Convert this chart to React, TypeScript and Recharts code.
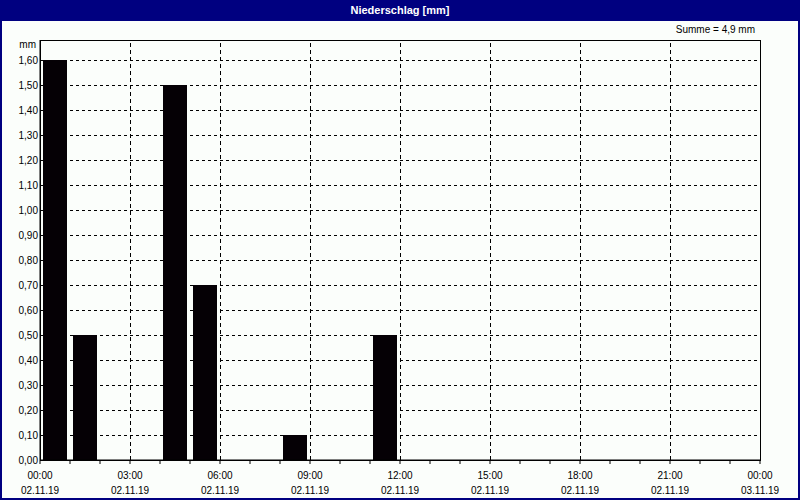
import React from 'react';
import { BarChart, Bar, XAxis, YAxis, CartesianGrid, ReferenceLine, ReferenceArea } from 'recharts';

const hours = [0, 1, 2, 3, 4, 5, 6, 7, 8, 9, 10, 11, 12, 13, 14, 15, 16, 17, 18, 19, 20, 21, 22, 23];
const precipitation = [1.6, 0.5, 0, 0, 1.5, 0.7, 0, 0, 0.1, 0, 0, 0.5, 0, 0, 0, 0, 0, 0, 0, 0, 0, 0, 0, 0];
const hourTicks = [0, 1, 2, 3, 4, 5, 6, 7, 8, 9, 10, 11, 12, 13, 14, 15, 16, 17, 18, 19, 20, 21, 22, 23, 24];
const majorTicks = [0, 3, 6, 9, 12, 15, 18, 21, 24];
const timeLabels = ['00:00', '03:00', '06:00', '09:00', '12:00', '15:00', '18:00', '21:00', '00:00'];
const dateLabels = ['02.11.19', '02.11.19', '02.11.19', '02.11.19', '02.11.19', '02.11.19', '02.11.19', '02.11.19', '03.11.19'];
const yTicks = [0, 0.1, 0.2, 0.3, 0.4, 0.5, 0.6, 0.7, 0.8, 0.9, 1.0, 1.1, 1.2, 1.3, 1.4, 1.5, 1.6];
const yMax = 1.68;
const title = 'Niederschlag [mm]';
const unit = 'mm';
const sumLabel = 'Summe = 4,9 mm';

const data = hours.map((h, i) => ({ hour: h, pos: h + 0.5, value: precipitation[i] }));

const FONT = '"Liberation Sans", Arial, sans-serif';

const XTick = (props: any) => {
  const { x, y, payload } = props;
  const idx = majorTicks.indexOf(payload.value);
  if (idx < 0) return null;
  return (
    <g>
      <text x={x} y={y + 13} textAnchor="middle" fontSize={10} fontFamily={FONT} fill="#000">{timeLabels[idx]}</text>
      <text x={x} y={y + 28} textAnchor="middle" fontSize={10} fontFamily={FONT} fill="#000">{dateLabels[idx]}</text>
    </g>
  );
};

const YTick = (props: any) => {
  const { x, y, payload } = props;
  return (
    <text x={x} y={y + 4} textAnchor="end" fontSize={10} fontFamily={FONT} fill="#000">
      {payload.value.toFixed(2).replace('.', ',')}
    </text>
  );
};

export default function App() {
  return (
    <div style={{ position: 'fixed', left: 0, top: 0, width: 800, height: 500, background: '#fbfefb', boxSizing: 'border-box', overflow: 'hidden' }}>
      <div style={{ position: 'absolute', left: 0, top: 0, width: 800, height: 21, background: '#000080', color: '#fff', fontFamily: FONT, fontWeight: 'bold', fontSize: 11, textAlign: 'center', lineHeight: '21px' }}>{title}</div>
      <div style={{ position: 'absolute', right: 45, top: 24, fontFamily: FONT, fontSize: 10, color: '#000' }}>{sumLabel}</div>
      <div style={{ position: 'absolute', right: 764, top: 39, fontFamily: FONT, fontSize: 10, color: '#000' }}>{unit}</div>
      <div style={{ position: 'absolute', left: 0, top: 0 }}>
        <BarChart width={800} height={500} data={data} margin={{ top: 40, right: 40, bottom: 0, left: 0 }}>
          <CartesianGrid vertical={false} stroke="#000" strokeDasharray="3 3" shapeRendering="crispEdges" />
          <XAxis dataKey="pos" type="number" domain={[0, 24]} ticks={hourTicks} interval={0} height={40}
            tick={<XTick />} tickSize={4} tickLine={{ stroke: '#000' }} axisLine={{ stroke: '#000' }} allowDataOverflow />
          <YAxis type="number" domain={[0, yMax]} ticks={yTicks} interval={0} width={40}
            tick={<YTick />} tickLine={false} tickSize={0} axisLine={{ stroke: '#000' }} allowDataOverflow />
          {majorTicks.slice(1, -1).map((t) => (
            <ReferenceLine key={t} x={t} stroke="#000" strokeDasharray="4 3" shapeRendering="crispEdges" />
          ))}
          <Bar dataKey="value" fill="#050005" barSize={24} isAnimationActive={false} />
          <ReferenceArea x1={0} x2={24} y1={0} y2={yMax} fill="none" stroke="#000" strokeWidth={1} strokeOpacity={1} fillOpacity={0} shapeRendering="crispEdges" ifOverflow="visible" />
        </BarChart>
      </div>
      <div style={{ position: 'absolute', left: 0, top: 0, width: 800, height: 500, border: '2px solid #000080', borderTop: 'none', boxSizing: 'border-box', pointerEvents: 'none' }} />
    </div>
  );
}
